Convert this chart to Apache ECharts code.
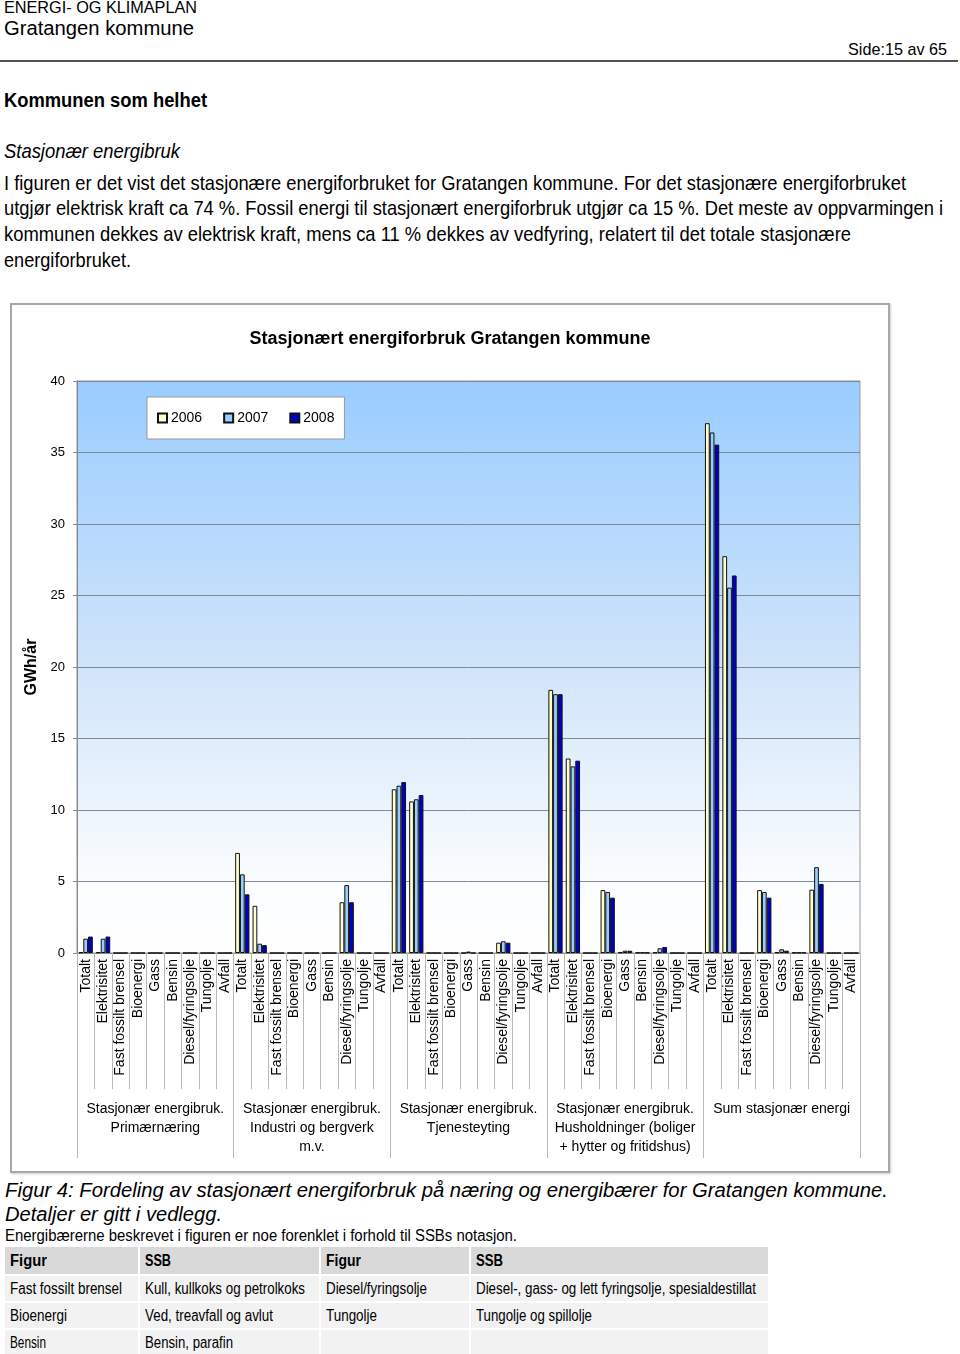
<!DOCTYPE html>
<html>
<head>
<meta charset="utf-8">
<script src="https://cdn.jsdelivr.net/npm/echarts@6/dist/echarts.min.js"></script>
<style>
  html, body { margin:0; padding:0; background:#fff; }
  body { width:960px; height:1354px; position:relative; overflow:hidden; font-family:'Liberation Sans', Arial, sans-serif; color:#000; }
  .t { position:absolute; white-space:nowrap; display:inline-block; transform-origin:0 50%; }
  #rule { position:absolute; left:0; top:60px; width:958px; height:2px; background:#555; }
  #chart { position:absolute; left:10px; top:303px; width:876px; height:866px; border:2px solid #a8a8a8; box-shadow:1px 1px 2px #ccc; }
  table { position:absolute; left:5px; top:1247px; border-collapse:collapse; width:764px; table-layout:fixed; }
  td { padding:0 0 0 5px; font-size:16px; height:25px; border-bottom:2px solid #fff; border-right:2px solid #fff; background:#f2f2f2; white-space:nowrap; overflow:visible; }
  tr.h td { background:#d9d9d9; font-weight:bold; height:27px; }
  td span { display:inline-block; transform-origin:0 50%; }
</style>
</head>
<body>
<div class="t" data-w="193" style="left:4px;top:0px;font-size:16px;line-height:16px;">ENERGI- OG KLIMAPLAN</div>
<div class="t" data-w="190" style="left:4px;top:18px;font-size:20px;line-height:20px;">Gratangen kommune</div>
<div class="t" data-w="99" style="left:848px;top:41px;font-size:17px;line-height:17px;">Side:15 av 65</div>
<div id="rule"></div>
<div class="t" data-w="203" style="left:4px;top:90px;font-size:20px;line-height:20px;font-weight:bold;">Kommunen som helhet</div>
<div class="t" data-w="176" style="left:4px;top:140px;font-size:21px;line-height:21px;font-style:italic;">Stasjonær energibruk</div>
<div class="t" data-w="902" style="left:4px;top:172px;font-size:21px;line-height:21px;">I figuren er det vist det stasjonære energiforbruket for Gratangen kommune. For det stasjonære energiforbruket</div>
<div class="t" data-w="939" style="left:4px;top:197px;font-size:21px;line-height:21px;">utgjør elektrisk kraft ca 74 %. Fossil energi til stasjonært energiforbruk utgjør ca 15 %. Det meste av oppvarmingen i</div>
<div class="t" data-w="847" style="left:4px;top:223px;font-size:21px;line-height:21px;">kommunen dekkes av elektrisk kraft, mens ca 11 % dekkes av vedfyring, relatert til det totale stasjonære</div>
<div class="t" data-w="127" style="left:4px;top:249px;font-size:21px;line-height:21px;">energiforbruket.</div>

<div id="chart"></div>

<div class="t" data-w="883" style="left:5px;top:1180px;font-size:20px;line-height:20px;font-style:italic;">Figur 4: Fordeling av stasjonært energiforbruk på næring og energibærer for Gratangen kommune.</div>
<div class="t" data-w="217" style="left:5px;top:1204px;font-size:20px;line-height:20px;font-style:italic;">Detaljer er gitt i vedlegg.</div>
<div class="t" data-w="512" style="left:5px;top:1228px;font-size:16px;line-height:16px;">Energibærerne beskrevet i figuren er noe forenklet i forhold til SSBs notasjon.</div>

<table>
  <colgroup><col style="width:134px"><col style="width:181px"><col style="width:150px"><col style="width:299px"></colgroup>
  <tr class="h"><td><span data-w="37">Figur</span></td><td><span data-w="26">SSB</span></td><td><span data-w="35">Figur</span></td><td><span data-w="27">SSB</span></td></tr>
  <tr><td><span data-w="112">Fast fossilt brensel</span></td><td><span data-w="160">Kull, kullkoks og petrolkoks</span></td><td><span data-w="101">Diesel/fyringsolje</span></td><td><span data-w="280">Diesel-, gass- og lett fyringsolje, spesialdestillat</span></td></tr>
  <tr><td><span data-w="57">Bioenergi</span></td><td><span data-w="128">Ved, treavfall og avlut</span></td><td><span data-w="51">Tungolje</span></td><td><span data-w="116">Tungolje og spillolje</span></td></tr>
  <tr><td><span data-w="36">Bensin</span></td><td><span data-w="88">Bensin, parafin</span></td><td></td><td></td></tr>
</table>

<script>
// ---- data ----
var carriers = ['Totalt', 'Elektrisitet', 'Fast fossilt brensel', 'Bioenergi', 'Gass', 'Bensin', 'Diesel/fyringsolje', 'Tungolje', 'Avfall'];
var groups = [
  'Stasjonær energibruk.\nPrimærnæring',
  'Stasjonær energibruk.\nIndustri og bergverk\nm.v.',
  'Stasjonær energibruk.\nTjenesteyting',
  'Stasjonær energibruk.\nHusholdninger (boliger\n+ hytter og fritidshus)',
  'Sum stasjonær energi'
];
var years = ['2006', '2007', '2008'];
// values per group (GWh/år), in carrier order
var primaer2006 = [0.05, 0.05, 0, 0, 0, 0, 0, 0, 0];
var primaer2007 = [1.0, 1.0, 0, 0, 0, 0, 0, 0, 0];
var primaer2008 = [1.15, 1.15, 0, 0, 0, 0, 0, 0, 0];
var industri2006 = [7.0, 3.3, 0, 0, 0, 0, 3.55, 0, 0];
var industri2007 = [5.5, 0.65, 0, 0, 0, 0, 4.75, 0, 0];
var industri2008 = [4.1, 0.55, 0, 0, 0, 0, 3.55, 0, 0];
var tjeneste2006 = [11.45, 10.6, 0, 0, 0, 0, 0.72, 0, 0];
var tjeneste2007 = [11.7, 10.75, 0, 0, 0.1, 0, 0.82, 0, 0];
var tjeneste2008 = [11.95, 11.05, 0, 0, 0, 0, 0.72, 0, 0];
var hushold2006 = [18.4, 13.6, 0, 4.4, 0.05, 0.03, 0.05, 0, 0];
var hushold2007 = [18.1, 13.05, 0, 4.27, 0.16, 0.03, 0.33, 0, 0];
var hushold2008 = [18.1, 13.45, 0, 3.87, 0.16, 0.03, 0.42, 0, 0];
var sum2006 = [37.05, 27.75, 0, 4.4, 0.05, 0.03, 4.43, 0, 0];
var sum2007 = [36.4, 25.55, 0, 4.27, 0.26, 0.03, 6.0, 0, 0];
var sum2008 = [35.55, 26.4, 0, 3.87, 0.16, 0.03, 4.83, 0, 0];
var yTicks = [0, 5, 10, 15, 20, 25, 30, 35, 40];

// ---- text fitting for document text ----
function fit() {
  document.querySelectorAll('[data-w]').forEach(function (el) {
    el.style.transform = 'none';
    var w = el.getBoundingClientRect().width;
    var target = parseFloat(el.getAttribute('data-w'));
    if (w > 0) el.style.transform = 'scaleX(' + (target / w) + ')';
  });
}
fit();

// ---- chart ----
var cats = [];
groups.forEach(function () { carriers.forEach(function (c) { cats.push(c); }); });
var v2006 = [].concat(primaer2006, industri2006, tjeneste2006, hushold2006, sum2006);
var v2007 = [].concat(primaer2007, industri2007, tjeneste2007, hushold2007, sum2007);
var v2008 = [].concat(primaer2008, industri2008, tjeneste2008, hushold2008, sum2008);
var colors = ['#FFFFCC', '#99CCFF', '#0000CC'];
var font = 'Liberation Sans';

var chart = echarts.init(document.getElementById('chart'), null, { renderer: 'canvas' });
chart.setOption({
  animation: false,
  textStyle: { fontFamily: font, color: '#000' },
  title: {
    text: 'Stasjonært energiforbruk Gratangen kommune',
    left: 'center', top: 20,
    textStyle: { fontFamily: font, fontSize: 18, fontWeight: 'bold', color: '#000' }
  },
  legend: {
    left: 135, top: 92,
    data: years,
    backgroundColor: '#fff', borderColor: '#999', borderWidth: 1,
    padding: [14, 10, 14, 10],
    itemWidth: 9, itemHeight: 9, itemGap: 21,
    textStyle: { fontFamily: font, fontSize: 14, color: '#000', padding: [0, 0, 0, -1] },
    icon: 'rect'
  },
  grid: {
    left: 65, right: 28, top: 76, bottom: 218,
    show: true,
    borderColor: '#999', borderWidth: 1,
    backgroundColor: {
      type: 'linear', x: 0, y: 0, x2: 0, y2: 1,
      colorStops: [
        { offset: 0, color: '#99CCFF' },
        { offset: 0.5, color: '#D0E4FA' },
        { offset: 0.85, color: '#F8FBFE' },
        { offset: 1, color: '#FFFFFF' }
      ]
    }
  },
  xAxis: [
    {
      type: 'category', data: cats, position: 'bottom',
      axisLine: { lineStyle: { color: '#888', width: 1 } },
      axisTick: { show: true, interval: 0, length: 136, lineStyle: { color: '#b8b8b8' } },
      axisLabel: { interval: 0, rotate: 90, margin: 6, fontSize: 14, color: '#000', fontFamily: font }
    },
    {
      type: 'category', data: groups, position: 'bottom',
      axisLine: { show: false },
      axisTick: { show: true, interval: 0, length: 205, lineStyle: { color: '#b8b8b8' } },
      axisLabel: { interval: 0, margin: 147, fontSize: 14, lineHeight: 19, color: '#000', fontFamily: font, align: 'center', verticalAlign: 'top' }
    }
  ],
  yAxis: {
    type: 'value', min: yTicks[0], max: yTicks[yTicks.length - 1], interval: 5,
    name: 'GWh/år', nameLocation: 'middle', nameGap: 36, nameRotate: 90,
    nameTextStyle: { fontFamily: font, fontSize: 16, fontWeight: 'bold', color: '#000' },
    axisLine: { show: true, lineStyle: { color: '#888' } },
    axisTick: { show: true, length: 4, lineStyle: { color: '#888' } },
    axisLabel: { margin: 12, fontSize: 13, color: '#000', fontFamily: font },
    splitLine: { show: true, lineStyle: { color: '#7f8a96', width: 1 } }
  },
  series: [
    { name: years[0], type: 'bar', xAxisIndex: 0, data: v2006, barGap: '0%', barCategoryGap: '18%',
      itemStyle: { color: colors[0], borderColor: '#111', borderWidth: 1 } },
    { name: years[1], type: 'bar', xAxisIndex: 0, data: v2007, barGap: '0%', barCategoryGap: '18%',
      itemStyle: { color: colors[1], borderColor: '#111', borderWidth: 1 } },
    { name: years[2], type: 'bar', xAxisIndex: 0, data: v2008, barGap: '0%', barCategoryGap: '18%',
      itemStyle: { color: colors[2], borderColor: '#111', borderWidth: 1 } }
  ]
});
</script>
</body>
</html>
